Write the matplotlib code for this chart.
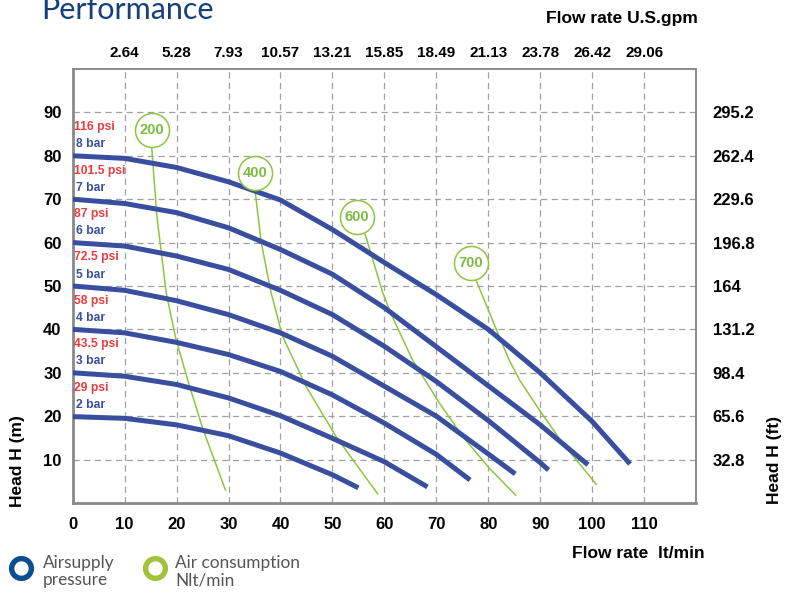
import matplotlib
matplotlib.use('Agg')
import matplotlib.pyplot as plt
from matplotlib.lines import Line2D

# Pump curves: head (m) vs flow rate (lt/min) for each air supply pressure
bar2_x = [0, 10, 20, 30, 40, 50, 55]
bar2_y = [19.9, 19.5, 18.0, 15.5, 11.5, 6.5, 3.5]
bar3_x = [0, 10, 20, 30, 40, 50, 60, 68.3]
bar3_y = [30, 29.2, 27.3, 24.2, 20.1, 14.9, 9.5, 3.7]
bar4_x = [0, 10, 20, 30, 40, 50, 60, 70, 76.5]
bar4_y = [40, 39.2, 37.0, 34.2, 30.3, 24.9, 18.4, 11.2, 5.3]
bar5_x = [0, 10, 20, 30, 40, 50, 60, 70, 80, 85.2]
bar5_y = [50, 49.0, 46.6, 43.4, 39.2, 33.8, 26.9, 20.0, 11.3, 6.7]
bar6_x = [0, 10, 20, 30, 40, 50, 60, 70, 80, 90, 91.6]
bar6_y = [60, 59.2, 56.9, 53.8, 49.0, 43.4, 36.1, 28.0, 19.0, 9.3, 7.6]
bar7_x = [0, 10, 20, 30, 40, 50, 60, 70, 80, 90, 99.2]
bar7_y = [70, 69.0, 66.9, 63.4, 58.4, 52.7, 45.0, 36.0, 27.0, 18.0, 8.8]
bar8_x = [0, 10, 20, 30, 40, 50, 60, 70, 80, 90, 100, 107.3]
bar8_y = [80, 79.4, 77.3, 74.0, 69.8, 63.0, 55.4, 48.0, 40.0, 30.0, 18.8, 9.0]

bar_labels = ['2 bar', '3 bar', '4 bar', '5 bar', '6 bar', '7 bar', '8 bar']
psi_labels = ['29 psi', '43.5 psi', '58 psi', '72.5 psi', '87 psi', '101.5 psi', '116 psi']
bar_levels = [20, 30, 40, 50, 60, 70, 80]

# Air consumption lines (Nlt/min)
air_labels = ['200', '400', '600', '700']
air_cx = [15.2, 35.1, 54.7, 76.7]
air_cy = [85.9, 76.0, 65.9, 55.4]
g200_x = [15.2, 16.2, 18.0, 19.9, 22.5, 25.1, 29.4]
g200_y = [82.0, 66.1, 48.4, 37.6, 26.9, 16.9, 3.0]
g400_x = [35.1, 36.3, 38.2, 40.4, 44.9, 50.7, 58.7]
g400_y = [72.0, 60.0, 48.4, 38.4, 26.9, 15.3, 2.1]
g600_x = [56.3, 59.7, 61.3, 65.4, 70.6, 75.1, 80.2, 85.3]
g600_y = [61.9, 48.4, 43.5, 33.0, 23.0, 15.3, 8.0, 1.8]
g700_x = [77.6, 82.1, 84.0, 86.0, 89.8, 94.3, 100.8]
g700_y = [51.5, 38.4, 33.0, 28.4, 21.5, 13.8, 4.3]

x_ticks = [0, 10, 20, 30, 40, 50, 60, 70, 80, 90, 100, 110]
gpm_ticks = [10, 20, 30, 40, 50, 60, 70, 80, 90, 100, 110]
gpm_labels = ['2.64', '5.28', '7.93', '10.57', '13.21', '15.85', '18.49',
              '21.13', '23.78', '26.42', '29.06']
y_ticks = [10, 20, 30, 40, 50, 60, 70, 80, 90]
ft_labels = ['32.8', '65.6', '98.4', '131.2', '164', '196.8', '229.6', '262.4', '295.2']

blue = '#3a4e9f'
green = '#8cc63f'
red = '#ee3b3b'
grid_c = '#a0a0a0'
spine_c = '#8a8a8a'

plt.rcParams['font.family'] = ['Liberation Sans', 'DejaVu Sans']

fig = plt.figure(figsize=(7.93, 5.93), dpi=100)
ax = fig.add_axes([0.0917, 0.1518, 0.786, 0.7319])
ax.set_xlim(0, 120)
ax.set_ylim(0, 100)

# grid
ax.set_xticks(x_ticks)
ax.set_yticks(y_ticks)
ax.grid(True, color=grid_c, linestyle=(0, (5, 3.5)), linewidth=0.9)
ax.set_axisbelow(True)
ax.tick_params(axis='x', length=0, labelsize=12, pad=10)
ax.tick_params(axis='y', length=0, labelsize=12, pad=8)
for lab in ax.get_xticklabels() + ax.get_yticklabels():
    lab.set_fontweight('bold')
for s in ['left', 'bottom']:
    ax.spines[s].set_color(spine_c)
    ax.spines[s].set_linewidth(2.0)
for s in ['top', 'right']:
    ax.spines[s].set_color(spine_c)
    ax.spines[s].set_linewidth(1.4)

# air consumption lines
for gx, gy in [(g200_x, g200_y), (g400_x, g400_y), (g600_x, g600_y), (g700_x, g700_y)]:
    ax.plot(gx, gy, color=green, linewidth=1.1, zorder=2)

# pump curves
curves = [(bar2_x, bar2_y), (bar3_x, bar3_y), (bar4_x, bar4_y), (bar5_x, bar5_y),
          (bar6_x, bar6_y), (bar7_x, bar7_y), (bar8_x, bar8_y)]
for cx, cy in curves:
    ax.plot(cx, cy, color=blue, linewidth=3.6, solid_capstyle='butt',
            solid_joinstyle='round', zorder=3)

# pressure labels
for lvl, bl, pl in zip(bar_levels, bar_labels, psi_labels):
    ax.text(0.6, lvl + 2.6, bl, color=blue, fontsize=8.7, fontweight='bold',
            ha='left', va='center', zorder=4)
    ax.text(0.3, lvl + 6.6, pl, color=red, fontsize=8.7, fontweight='bold',
            ha='left', va='center', zorder=4)

# air consumption bubbles
ax.scatter(air_cx, air_cy, s=600, facecolor='white', edgecolor=green,
           linewidth=1.1, zorder=5, clip_on=False)
for cx, cy, t in zip(air_cx, air_cy, air_labels):
    ax.text(cx, cy, t, color='#7dbb42', fontsize=10.5, fontweight='bold',
            ha='center', va='center', zorder=6)

# top axis (U.S.gpm)
axt = ax.twiny()
axt.set_xlim(ax.get_xlim())
axt.set_xticks(gpm_ticks)
axt.set_xticklabels(gpm_labels, fontweight='bold')
axt.tick_params(length=0, labelsize=11, pad=6.5)
for s in axt.spines.values():
    s.set_visible(False)

# right axis (ft)
axr = ax.twinx()
axr.set_ylim(ax.get_ylim())
axr.set_yticks(y_ticks)
axr.set_yticklabels(ft_labels, fontweight='bold')
axr.tick_params(length=0, labelsize=12, pad=12)
for s in axr.spines.values():
    s.set_visible(False)

# axis titles
fig.text(572 / 793, 1 - 553 / 593, 'Flow rate  lt/min', fontsize=12.5, fontweight='bold',
         ha='left', va='center')
fig.text(546 / 793, 1 - 18 / 593, 'Flow rate U.S.gpm', fontsize=12.5, fontweight='bold',
         ha='left', va='center')
fig.text(18 / 793, 1 - 461 / 593, 'Head H (m)', fontsize=12.5, fontweight='bold',
         rotation=90, ha='center', va='center')
fig.text(775 / 793, 1 - 460 / 593, 'Head H (ft)', fontsize=12.5, fontweight='bold',
         rotation=90, ha='center', va='center')

# page title, cut by the top edge as in the source page
fig.text(41 / 793, 1 - 19 / 593, 'Performance', fontsize=22, color='#173f7c',
         family='Lato', ha='left', va='baseline')

# legend
for lx, lc in [(20.5, '#0e4d92'), (154.5, '#a2c23c')]:
    fig.add_artist(Line2D([lx / 793], [1 - 568 / 593], transform=fig.transFigure,
                          marker='o', markersize=14.2, markerfacecolor='none',
                          markeredgecolor=lc, markeredgewidth=3.9, linestyle='none'))
fig.text(43 / 793, 1 - 571.5 / 593, 'Airsupply\npressure', fontsize=12.4, color='#555555',
         family='Lato', ha='left', va='center', linespacing=1.08)
fig.text(175 / 793, 1 - 571.5 / 593, 'Air consumption\nNlt/min', fontsize=12.4,
         color='#555555', family='Lato', ha='left', va='center', linespacing=1.08)

fig.savefig('out.png', dpi=100)
